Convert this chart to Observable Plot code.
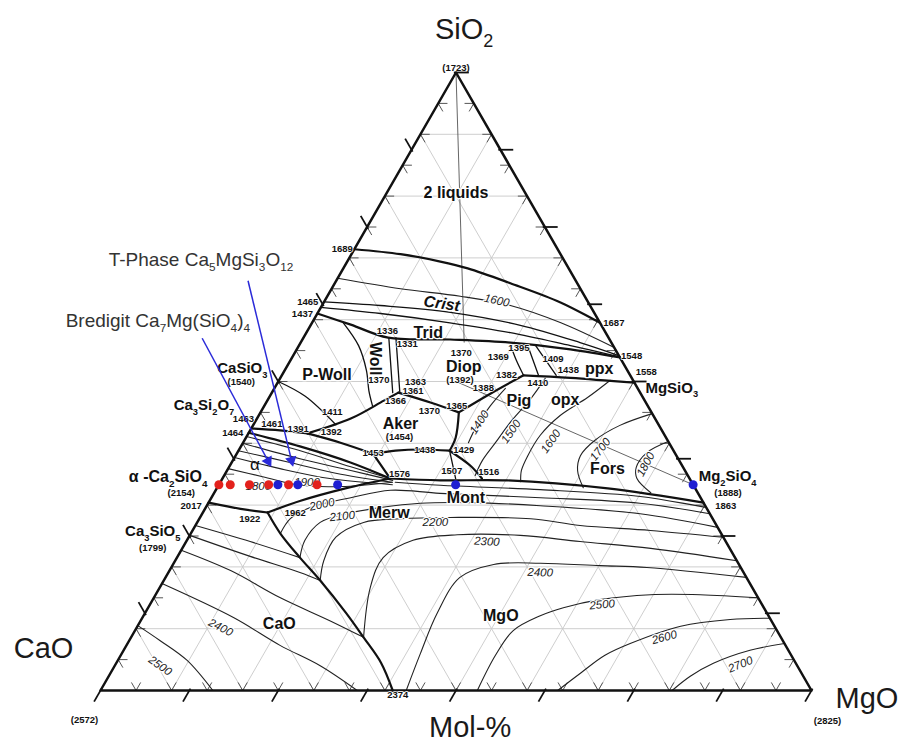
<!DOCTYPE html>
<html>
<head>
<meta charset="utf-8">
<script src="https://cdn.jsdelivr.net/npm/d3@7"></script>
<script src="https://cdn.jsdelivr.net/npm/@observablehq/plot@0.6"></script>
<style>
  html, body { margin: 0; padding: 0; background: #fff; }
  #chart svg { display: block; }
</style>
</head>
<body>
<div id="chart"></div>
<script>
// CaO–MgO–SiO2 liquidus diagram. Every point is [mol-% SiO2, mol-% MgO]; CaO is the remainder.

// ---- heavy field boundaries ----
const twoLiquidLimit = [[71.4,0],[70.6,6.9],[69.4,13.1],[68.3,17.5],[65.9,24.7],[62.8,33.3],[59.5,40.5]];
const silicaBoundary = [[61,0],[59.2,5.6],[57.1,11.9],[56.8,20.8],[56.3,29.5],[55.2,38.5],[53.9,46.1]];
const protoBoundary  = [[51.0,34.0],[50.6,40.8],[49.8,50.2]];
const akerNorth      = [[41.6,8.3],[44.0,13.2],[46.9,16.4],[48.2,17.8]];
const diopAker       = [[48.2,17.8],[46.6,23.1],[45.0,27.9]];
const diopPig        = [[45.0,27.9],[48.1,30.9],[51.0,34.0]];
const akerEast       = [[45.0,27.9],[40.9,29.5],[38.8,29.7]];
const akerSouth      = [[38.8,29.7],[39.0,25.5],[38.8,22.1],[38.3,19.2]];
const montNorth      = [[38.8,29.7],[36.4,33.8],[34.3,36.5]];
const forsSouth      = [[34.3,23.6],[34.0,30.8],[34.0,40.2],[32.7,55.0],[30.4,69.6]];
const rankiniteLine  = [[42.4,0],[42.1,4.2],[41.6,8.3]];
const c2sNorth       = [[41.7,0],[39.5,8.3],[36.9,16.7],[34.3,23.6]];
const akerWest       = [[41.6,8.3],[40.1,13.7],[38.3,19.2]];
const merwLink       = [[38.3,19.2],[34.3,23.6]];
const c3sNorth       = [[30.4,0],[29.4,5.0],[28.8,9.1]];
const merwSouth      = [[28.8,9.1],[30.7,12.8],[32.7,18.1],[34.3,23.6]];
const limeMgoLine    = [[28.8,9.1],[25.4,12.6],[21.5,17.3],[17.8,22.0],[12.6,28.2],[8.6,32.7],[4.5,37.2],[0,41.1]];

// ---- light boundaries ----
const wollWest   = [[57.1,12.0],[48.2,17.0]];
const wollEast   = [[57.1,13.0],[48.2,18.0]];
const pwollWoll  = [[59.5,4.4],[55.8,8.4],[51.8,11.5],[48.5,13.5],[46.1,15.2]];
const mont1507   = [[38.8,29.7],[34.3,32.8]];
const trid1395a  = [[55.8,29.8],[53.4,31.8],[51.0,34.0]];
const trid1395b  = [[55.8,32.2],[51.0,36.1]];
const trid1395c  = [[55.8,33.3],[51.0,38.6]];
const pwollLine  = [[50,0],[47.6,5.0],[43.0,11.6]];
const inversionA = [[62.9,0],[62.3,8.2],[61.2,18.6],[59.1,29.5],[56.3,39.3],[54.2,45.8]];
const inversionB = [[62.0,0],[61.0,8.9],[59.5,19.4],[57.9,28.7],[55.8,38.2],[54.0,46.0]];

// ---- isotherms ----
const iso1600top = [[66.7,0],[65.0,9.7],[63.8,18.7],[62.3,26.5],[59.5,35.0],[55.5,44.5]];
const iso1400 = [[48.9,32.5],[46.1,31.8],[42.9,31.5],[40.1,31.7]];
const iso1500 = [[50.5,37.3],[47.2,36.9],[43.7,36.0],[40.1,35.5],[37.2,35.1],[34.8,35.3]];
const iso1600 = [[50.2,46.6],[47.4,44.8],[44.5,42.4],[41.3,41.2],[38.0,41.1],[35.6,41.4],[33.8,42.2]];
const iso1700 = [[44.8,55.2],[42.9,51.6],[40.5,49.3],[38.0,48.5],[35.6,49.3],[32.8,51.5]];
const iso1800 = [[40.3,59.7],[38.5,57.6],[36.1,57.3],[34.3,58.3],[32.0,61.4]];
const mgo1900 = [[33.7,24.6],[33.2,31.2],[32.5,45.6],[31.4,60.2],[29.6,70.4]];
const mgo2000 = [[25.4,12.6],[27.8,12.8],[29.6,14.7],[31.2,19.6],[32.4,24.6],[31.9,31.8],[31.2,46.3],[30.3,60.7],[28.6,71.4]];
const mgo2100 = [[21.5,17.3],[24.3,16.6],[27.2,17.3],[28.6,20.2],[29.6,24.6],[30.3,29.8],[30.4,36.8],[29.9,46.9],[28.6,61.6],[26.4,73.6]];
const mgo2200 = [[17.8,22.0],[21.0,20.9],[24.8,20.7],[27.2,23.4],[27.8,28.3],[28.0,35.2],[27.8,46.6],[26.7,54.1],[25.9,64.4],[24.8,75.2]];
const mgo2300 = [[8.6,32.7],[16.7,29.6],[21.5,29.0],[24.3,31.8],[25.2,37.6],[25.1,46.5],[24.1,55.4],[23.0,65.9],[21.0,79.0]];
const mgo2400 = [[0,43.0],[6.0,42.0],[12.5,41.1],[18.3,41.4],[20.4,45.1],[20.6,51.6],[20.2,60.2],[19.9,66.9],[18.3,81.7]];
const mgo2500 = [[0,53.0],[5.7,52.7],[9.7,53.2],[12.1,55.8],[13.4,58.4],[14.7,62.9],[15.5,69.6],[15.5,76.6],[15.0,85.0]];
const mgo2600 = [[0,64.3],[2.8,66.1],[5.7,68.1],[7.6,70.7],[10.4,76.4],[11.5,82.8],[11.7,88.3]];
const mgo2700 = [[0,80.4],[2.3,81.8],[4.4,84.0],[6.5,88.1],[7.6,92.4]];
const lime2100 = [[26.7,0],[24.1,9.0],[21.5,17.3]];
const lime2200 = [[25.1,0],[21.7,10.2],[19.1,18.5],[17.8,22.0]];
const lime2300 = [[22.7,0],[19.4,8.6],[15.0,17.8],[11.3,26.6],[8.6,32.7]];
const lime2400 = [[17.3,0],[11.8,12.8],[7.3,21.6],[4.0,28.9],[0,36.1]];
const lime2500 = [[10.5,0],[8.1,4.3],[4.9,9.7],[0,15.8]];
const c2sIsoA = [[41.1,0],[38.8,8.7],[36.2,17.1],[34.3,23.6]];
const c2sIsoB = [[40.0,0],[37.5,9.3],[35.6,17.4],[34.0,24.1]];
const c2sIsoC = [[38.8,0],[36.9,8.2],[35.0,16.3],[33.7,24.2]];
const c2sIsoD = [[37.7,0],[35.9,7.3],[34.3,15.1],[33.3,24.4]];
const c2sIsoE = [[35.9,0],[34.6,5.5],[33.2,11.5],[33.0,17.3],[33.7,24.2]];

// ---- compatibility joins ----
const silicaJoin = [[100,0],[56.3,23.0]];
const diopForsJoin = [[50,25],[33.3,66.7]];

// ---- measured compositions along the orthosilicate line ----
const redSamplesMgO  = [0, 1.6, 4.3, 7.0, 9.8, 13.8];
const blueSamplesMgO = [8.3, 11.1, 16.7, 33.3, 66.7];
const orthoSiO2 = 33.3;

// ---- arrows from the phase captions ----
const arrowStarts = [[66.3,-12.4],[57.0,-14.2]];
const arrowTips   = [[35.9,9.2],[35.9,6.2]];
const arrowCaptions = [["T-Phase Ca_5MgSi_3O_12", 69.7, -33.7], ["Bredigit Ca_7Mg(SiO_4)_4", 59.8, -34.8]];

// ---- labels: [text, SiO2, MgO] ----
const phaseLabels = [["2 liquids",80.6,9.7],["Trid",57.8,17.2],["P-Woll",51.1,6.3],["Diop",52.4,24.9],["ppx",52.1,44.1],
  ["Pig",46.9,35.4],["opx",47.1,41.8],["Aker",43.2,20.6],["Fors",35.8,53.4],["Mont",31.2,35.8],["Merw",28.8,26.2],
  ["MgO",12.0,50.3],["CaO",10.7,19.8]];
const cristLabel = [["Crist",62.6,16.7]];
const wollLabel = [["Woll",53.7,11.8]];
const alphaLabel = [["α",36.6,3.4]];
const compoundLabels = [["CaSiO_3",52.1,-6.1],["Ca_3Si_2O_7",46.1,-8.5],["Ca_3SiO_5",25.7,-5.5],
  ["MgSiO_3",48.9,55.9],["Mg_2SiO_4",34.6,70.9]];
const c2sLabel = [["α -Ca_2SiO_4",34.5,-2.2]];
const meltingPoints = [["(1540)",50.0,-5.2],["(2154)",31.9,-4.6],["(1799)",23.1,-4.2],["(1888)",31.9,72.3]];
const invariantPoints = [["1689",71.4,-1.7],["1465",62.9,-2.3],["1437",61.0,-2.1],["1336",58.1,11.3],["1331",56.1,15.1],
  ["1370",50.3,14.0],["1363",50.0,19.3],["1361",48.5,19.7],["1366",46.8,18.1],["1370",45.3,23.6],["1365",46.0,27.1],
  ["1370",54.7,23.4],["(1392)",50.3,25.4],["1369",53.9,29.0],["1395",55.5,31.1],["1382",51.0,31.6],["1388",48.9,29.4],
  ["1409",53.7,36.8],["1438",51.8,39.9],["1410",49.8,36.6],["1548",54.2,47.6],["1687",59.4,42.5],["1558",51.5,51.0],
  ["1863",29.9,73.0],["1507",35.6,31.6],["1516",35.4,36.9],["1429",39.0,31.6],["1438",39.0,26.1],["1453",38.5,19.1],
  ["(1454)",41.1,21.5],["1411",45.0,10.1],["1391",42.4,6.6],["1392",41.9,11.5],["1463",44.0,-1.9],["1461",43.2,2.5],
  ["1464",41.6,-2.2],["1576",35.1,24.5],["2017",29.9,-2.2],["1922",27.8,7.1],["1962",28.8,13.0],["2374",-0.8,42.2]];
const isoLabels = [["1600",63.1,24.2],["1400",43.4,31.6],["1500",41.9,36.8],["1600",40.3,43.2],["1700",39.0,50.8],
  ["1800",36.6,58.4],["1800",33.0,5.7],["1900",33.7,12.2],["2000",30.1,16.1],["2100",28.2,19.9],["2200",27.2,33.5],
  ["2300",24.1,42.3],["2400",19.1,52.3],["2500",13.9,63.6],["2600",8.6,75.0],["2700",4.2,87.9],["2400",10.2,11.8],["2500",4.0,6.4]];
const isoLabelTilt = [12,-57,-55,-55,-52,-62,0,0,-12,-6,0,3,2,-5,-15,-22,27,35];

// ---- frame levels ----
const gridLevels = [10,20,30,40,50,60,70,80,90];
const tickLevels = [0,12.5,25,37.5,50,62.5,75,87.5,100];
const chevronLevels = [5,10,15,20,25,30,35,40,45,50,55,60,65,70,75,80,85,90,95];

// ---------------------------------------------------------------
const SQ = Math.sqrt(3) / 2;
const toXY = ([s, m]) => ({x: m + s / 2, y: s * SQ});
const seg = (a, b) => { const p = toXY(a), q = toXY(b); return {x1: p.x, y1: p.y, x2: q.x, y2: q.y}; };
const flat = (list) => list.flatMap((pts, k) => pts.map(p => ({...toXY(p), k})));
const labelRows = (rows, extra = () => ({})) => rows.map(([text, s, m], i) => ({text, ...toXY([s, m]), ...extra(i)}));

const gridSegs = gridLevels.flatMap(v => [
  seg([v, 0], [v, 100 - v]),
  seg([0, v], [100 - v, v]),
  seg([0, 100 - v], [100 - v, 0])
]);

const arm = 1.3;
const chevronSegs = chevronLevels.flatMap(v => [
  seg([0, v], [arm, v]), seg([0, v], [arm, v - arm]),
  seg([v, 0], [v, arm]), seg([v, 0], [v - arm, arm]),
  seg([v, 100 - v], [v, 100 - v - arm]), seg([v, 100 - v], [v - arm, 100 - v])
]);

const tl = 1.8, ti = 0.3;
const tickSegs = [
  ...tickLevels.map(v => seg([ti, v], [-tl, v])),
  ...tickLevels.filter(v => v > 0).map(v => seg([v, 100 - v - ti], [v, 100 - v + tl])),
  ...tickLevels.filter(v => v > 0 && v < 100).map(v => seg([v - ti, ti], [v + tl, -tl]))
];

const frame = [[0,0],[0,100],[100,0],[0,0]].map(toXY);

const heavy = [twoLiquidLimit, silicaBoundary, protoBoundary, akerNorth, diopAker, diopPig, akerEast, akerSouth,
  montNorth, forsSouth, rankiniteLine, c2sNorth, akerWest, merwLink, c3sNorth, merwSouth, limeMgoLine];
const light = [wollWest, wollEast, pwollWoll, mont1507, trid1395a, trid1395b, trid1395c, pwollLine, inversionA, inversionB];
const isoLines = [iso1600top, iso1400, iso1500, iso1600, iso1700, iso1800, mgo1900, mgo2000, mgo2100, mgo2200, mgo2300,
  mgo2400, mgo2500, mgo2600, mgo2700, lime2100, lime2200, lime2300, lime2400, lime2500, c2sIsoA, c2sIsoB, c2sIsoC, c2sIsoD, c2sIsoE];
const joins = [silicaJoin, diopForsJoin];

// arrow shafts and heads
const headBack = 1.2;
const arrows = arrowStarts.map((a, i) => {
  const p = toXY(a), q = toXY(arrowTips[i]);
  const dx = q.x - p.x, dy = q.y - p.y, len = Math.hypot(dx, dy);
  const hx = q.x - dx / len * headBack, hy = q.y - dy / len * headBack;
  return {x1: p.x, y1: p.y, x2: hx, y2: hy, hx, hy, angle: Math.atan2(dx, dy) * 180 / Math.PI};
});

const dots = [
  ...redSamplesMgO.map(m => ({...toXY([orthoSiO2, m]), c: "#e3211c"})),
  ...blueSamplesMgO.map(m => ({...toXY([orthoSiO2, m]), c: "#1f1fd2"}))
];

const corner = {ca: toXY([0, 0]), mg: toXY([0, 100]), si: toXY([100, 0]), base: toXY([0, 50])};
const FONT = "'Liberation Sans', Arial, Helvetica, sans-serif";

const chart = Plot.plot({
  width: 903,
  height: 742,
  marginLeft: 100,
  marginRight: 92,
  marginTop: 72,
  marginBottom: 52,
  x: {domain: [0, 100], axis: null},
  y: {domain: [0, 100 * SQ], axis: null},
  style: {fontFamily: FONT, background: "#fff", overflow: "visible"},
  marks: [
    Plot.link(gridSegs, {x1: "x1", y1: "y1", x2: "x2", y2: "y2", stroke: "#c8c8c8", strokeWidth: 0.9}),
    Plot.link(joins.map(([a, b]) => seg(a, b)), {x1: "x1", y1: "y1", x2: "x2", y2: "y2", stroke: "#555", strokeWidth: 0.9}),
    Plot.link(chevronSegs, {x1: "x1", y1: "y1", x2: "x2", y2: "y2", stroke: "#555", strokeWidth: 1}),
    Plot.link(tickSegs, {x1: "x1", y1: "y1", x2: "x2", y2: "y2", stroke: "#111", strokeWidth: 1.8}),
    Plot.line(flat(isoLines), {x: "x", y: "y", z: "k", curve: "catmull-rom", stroke: "#222", strokeWidth: 1.1}),
    Plot.line(flat(light), {x: "x", y: "y", z: "k", curve: "catmull-rom", stroke: "#111", strokeWidth: 1.3}),
    Plot.line(flat(heavy), {x: "x", y: "y", z: "k", curve: "catmull-rom", stroke: "#111", strokeWidth: 2.2}),
    Plot.line(frame, {x: "x", y: "y", stroke: "#111", strokeWidth: 2.5}),

    // isotherm temperatures
    Plot.text(labelRows(isoLabels, i => ({a: isoLabelTilt[i]})), {x: "x", y: "y", text: "text", rotate: "a",
      fontSize: 11.5, fontStyle: "italic", fill: "#222", stroke: "#fff", strokeWidth: 2.5, paintOrder: "stroke"}),
    // invariant points
    Plot.text(labelRows(invariantPoints), {x: "x", y: "y", text: "text", fontSize: 9.5, fontWeight: "bold",
      fill: "#111", stroke: "#fff", strokeWidth: 1.5, paintOrder: "stroke"}),
    Plot.text(labelRows(meltingPoints), {x: "x", y: "y", text: "text", fontSize: 9.5, fontWeight: "bold", fill: "#111"}),
    // primary phase fields
    Plot.text(labelRows(phaseLabels), {x: "x", y: "y", text: "text", fontSize: 16, fontWeight: "bold", fill: "#111",
      stroke: "#fff", strokeWidth: 2.5, paintOrder: "stroke"}),
    Plot.text(labelRows(cristLabel), {x: "x", y: "y", text: "text", fontSize: 16, fontWeight: "bold", fontStyle: "italic",
      rotate: 8, fill: "#111", stroke: "#fff", strokeWidth: 2.5, paintOrder: "stroke"}),
    Plot.text(labelRows(wollLabel), {x: "x", y: "y", text: "text", fontSize: 16, fontWeight: "bold", rotate: 90,
      fill: "#111", stroke: "#fff", strokeWidth: 2.5, paintOrder: "stroke"}),
    Plot.text(labelRows(alphaLabel), {x: "x", y: "y", text: "text", fontSize: 17, fill: "#111"}),
    // compounds
    Plot.text(labelRows(compoundLabels), {x: "x", y: "y", text: "text", fontSize: 15, fontWeight: "bold", fill: "#111"}),
    Plot.text(labelRows(c2sLabel), {x: "x", y: "y", text: "text", fontSize: 16, fontWeight: "bold", fill: "#111", textAnchor: "end"}),

    // component corners
    Plot.text([corner.si], {x: "x", y: "y", text: () => "SiO_2", fontSize: 29, textAnchor: "start", dx: -21, dy: -43, fill: "#1a1a1a"}),
    Plot.text([corner.ca], {x: "x", y: "y", text: () => "CaO", fontSize: 29, dx: -57, dy: -42, fill: "#1a1a1a"}),
    Plot.text([corner.mg], {x: "x", y: "y", text: () => "MgO", fontSize: 29, textAnchor: "start", dx: 24, dy: 8, fill: "#1a1a1a"}),
    Plot.text([corner.base], {x: "x", y: "y", text: () => "Mol-%", fontSize: 29, textAnchor: "start", dx: -27, dy: 37, fill: "#1a1a1a"}),
    Plot.text([corner.si], {x: "x", y: "y", text: () => "(1723)", fontSize: 9.5, fontWeight: "bold", dy: -5, fill: "#111"}),
    Plot.text([corner.ca], {x: "x", y: "y", text: () => "(2572)", fontSize: 9.5, fontWeight: "bold", dx: -16, dy: 29, fill: "#111"}),
    Plot.text([corner.mg], {x: "x", y: "y", text: () => "(2825)", fontSize: 9.5, fontWeight: "bold", dx: 16, dy: 30, fill: "#111"}),

    // captions with arrows
    Plot.text(labelRows(arrowCaptions), {x: "x", y: "y", text: "text", fontSize: 19, textAnchor: "start", fill: "#333"}),
    Plot.link(arrows, {x1: "x1", y1: "y1", x2: "x2", y2: "y2", stroke: "#2a2ad8", strokeWidth: 1.5}),
    Plot.dot(arrows, {x: "hx", y: "hy", symbol: "triangle2", r: 5.5, rotate: "angle", fill: "#2a2ad8", stroke: "none"}),

    // samples
    Plot.dot(dots, {x: "x", y: "y", r: 4.5, fill: "c", stroke: "none"})
  ]
});

// turn "_n" markers into subscripts
function applySubscripts(svg) {
  const NS = "http://www.w3.org/2000/svg";
  svg.querySelectorAll("text").forEach(t => {
    const s = t.textContent;
    if (!s.includes("_")) return;
    const parts = s.split(/_(\d+)/);
    t.textContent = "";
    let lowered = false;
    parts.forEach((p, i) => {
      if (!p) return;
      const ts = document.createElementNS(NS, "tspan");
      ts.textContent = p;
      if (i % 2) {
        ts.setAttribute("font-size", "62%");
        ts.setAttribute("dy", lowered ? "0" : "0.45em");
        lowered = true;
      } else if (lowered) {
        ts.setAttribute("dy", "-0.28em");
        lowered = false;
      }
      t.appendChild(ts);
    });
  });
}
applySubscripts(chart);
document.getElementById("chart").appendChild(chart);
</script>
</body>
</html>
